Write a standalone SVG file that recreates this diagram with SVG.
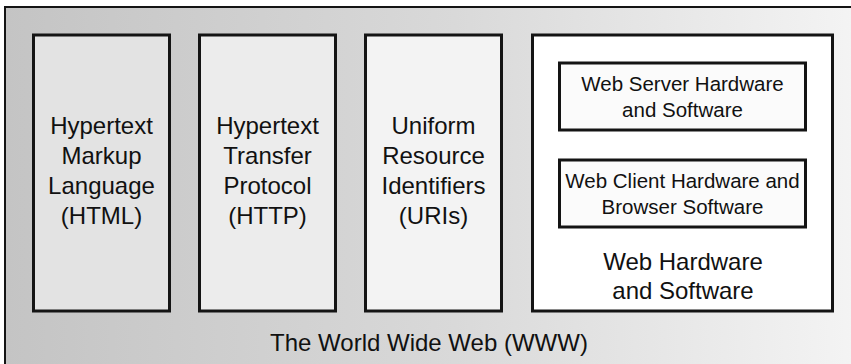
<svg xmlns="http://www.w3.org/2000/svg" width="851" height="364" viewBox="0 0 851 364">
<defs>
<linearGradient id="bg" x1="0" y1="0" x2="1" y2="0">
<stop offset="0" stop-color="#c4c4c4"/>
<stop offset="0.5" stop-color="#d9d9d9"/>
<stop offset="1" stop-color="#f7f7f7"/>
</linearGradient>
</defs>
<style>
.box{stroke:#141414;stroke-width:3}
.t{font-family:"Liberation Sans",Arial,sans-serif;fill:#111;text-anchor:middle}
.big{font-size:24px}
.mid{font-size:24px}
.sm{font-size:20.5px}
</style>
<rect x="0" y="0" width="851" height="364" fill="#fff"/>
<g id="www">
<rect x="5" y="7" width="900" height="400" fill="url(#bg)" stroke="#141414" stroke-width="2"/>
<text class="t big" x="429" y="351" font-size="25">The World Wide Web (WWW)</text>
</g>
<g id="html">
<rect class="box" x="33.5" y="35" width="136" height="276" fill="#e3e3e3"/>
<text class="t big" x="101.5" y="134">Hypertext</text>
<text class="t big" x="101.5" y="164">Markup</text>
<text class="t big" x="101.5" y="194">Language</text>
<text class="t big" x="101.5" y="224">(HTML)</text>
</g>
<g id="http">
<rect class="box" x="199.5" y="35" width="136" height="276" fill="#ececec"/>
<text class="t big" x="267.5" y="134">Hypertext</text>
<text class="t big" x="267.5" y="164">Transfer</text>
<text class="t big" x="267.5" y="194">Protocol</text>
<text class="t big" x="267.5" y="224">(HTTP)</text>
</g>
<g id="uri">
<rect class="box" x="365.5" y="35" width="136" height="276" fill="#f3f3f3"/>
<text class="t big" x="433.5" y="134">Uniform</text>
<text class="t big" x="433.5" y="164">Resource</text>
<text class="t big" x="433.5" y="194">Identifiers</text>
<text class="t big" x="433.5" y="224">(URIs)</text>
</g>
<g id="hw">
<rect class="box" x="532.5" y="35" width="300" height="276" fill="#ffffff"/>
<text class="t mid" x="683" y="270">Web Hardware</text>
<text class="t mid" x="683" y="299">and Software</text>
</g>
<g id="server">
<rect class="box" x="559.5" y="63" width="246" height="67" fill="#fbfbfb"/>
<text class="t sm" x="682.5" y="91">Web Server Hardware</text>
<text class="t sm" x="682.5" y="117">and Software</text>
</g>
<g id="client">
<rect class="box" x="559.5" y="160" width="246" height="67" fill="#fbfbfb"/>
<text class="t sm" x="682.5" y="188">Web Client Hardware and</text>
<text class="t sm" x="682.5" y="214">Browser Software</text>
</g>
<g id="connectors"></g>
</svg>
